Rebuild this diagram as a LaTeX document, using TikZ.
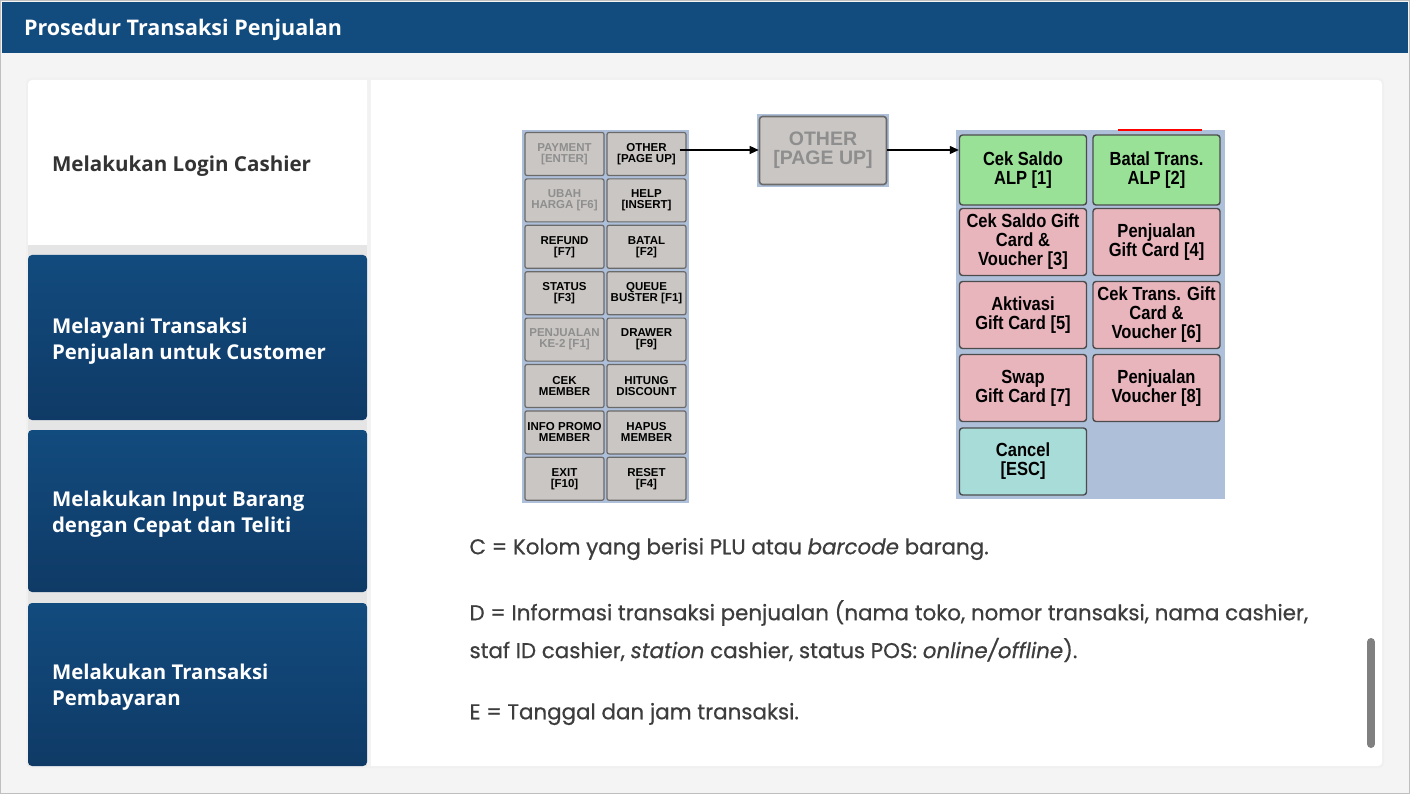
\documentclass[tikz,border=0pt]{standalone}
\usepackage{fontspec}
\setmainfont{Open Sans}
\newfontfamily\bodyfont{Poppins}[FakeBold=0.6]
\newfontfamily\keyfont{Liberation Sans}
\newfontfamily\menufont{Liberation Sans}[FakeStretch=0.87]
\usetikzlibrary{arrows.meta}
\definecolor{hdrblue}{HTML}{124B7E}
\definecolor{tabtop}{HTML}{124B7E}
\definecolor{tabbot}{HTML}{0F3A66}
\definecolor{pagebg}{HTML}{F4F4F4}
\definecolor{gridbg}{HTML}{AEBFD9}
\definecolor{keyfill}{HTML}{CAC6C3}
\definecolor{keyline}{HTML}{6A6A6A}
\definecolor{keyoff}{HTML}{8E8E8E}
\definecolor{greenbtn}{HTML}{99E196}
\definecolor{pinkbtn}{HTML}{E9B5BD}
\definecolor{cyanbtn}{HTML}{A8DCD9}
\definecolor{bodytext}{HTML}{3D3D3D}
\definecolor{tabtext}{HTML}{333333}
\tikzset{
  keybtn/.style={draw=keyline, line width=1.2pt, fill=keyfill, rounded corners=2pt,
    minimum width=79pt, minimum height=43pt, inner sep=0pt, align=center,
    font=\keyfont\bfseries\fontsize{11.5}{11}\selectfont, text=black},
  keydis/.style={keybtn, text=keyoff},
  menubtn/.style={draw=black!70, line width=1.4pt, rounded corners=3pt,
    minimum width=127pt, minimum height=67pt, inner sep=0pt, align=center,
    font=\menufont\bfseries\fontsize{19}{19}\selectfont, text=black},
  tabblue/.style={rounded corners=4pt, top color=tabtop, bottom color=tabbot},
  tablabel/.style={anchor=west, align=left, text=white,
    font=\bfseries\fontsize{20.4}{26.5}\selectfont},
  bodyline/.style={anchor=west, text=bodytext, font=\bodyfont\fontsize{21.4}{24}\selectfont},
  arr/.style={-{Triangle[length=9pt,width=8pt]}, line width=1.2pt, black}
}
\begin{document}
\begin{tikzpicture}[x=1pt,y=-1pt]
\useasboundingbox (0,0) rectangle (1410,794);
% page
\fill[pagebg] (0,0) rectangle (1410,794);
\draw[black!25, line width=1pt] (0.5,0.5) rectangle (1409.5,793.5);
% header
\fill[hdrblue] (2,2) rectangle (1408,53);
\node[anchor=west, text=white, font=\bfseries\fontsize{21.5}{24}\selectfont] (title) at (20.5,30) {Prosedur Transaksi Penjualan};
% card
\fill[black!6, rounded corners=5pt] (26,78) rectangle (1384,768);
\fill[white, rounded corners=4pt] (28,80) rectangle (1382,766);
% left column background
\fill[black!10] (28,245) rectangle (367,766);
\fill[black!5] (367,80) rectangle (371,766);
% tabs
\fill[white, rounded corners=4pt] (28,82) rectangle (367,245);
\node[anchor=west, text=tabtext, font=\bfseries\fontsize{20.6}{26}\selectfont] (tab1) at (48.5,166.5) {Melakukan Login Cashier};
\shade[tabblue] (28,255) rectangle (367,420);
\node[tablabel] (tab2) at (48.5,341) {Melayani Transaksi\\Penjualan untuk Customer};
\shade[tabblue] (28,430) rectangle (367,592);
\node[tablabel] (tab3) at (48.5,514) {Melakukan Input Barang\\dengan Cepat dan Teliti};
\shade[tabblue] (28,603) rectangle (367,766);
\node[tablabel] (tab4) at (48.5,687) {Melakukan Transaksi\\Pembayaran};
% key grid
\fill[gridbg] (522,130) rectangle (689,503);
\node[keydis] (k11) at (564.5,154) {PAYMENT\\{}[ENTER]};
\node[keybtn] (k12) at (646.5,154) {OTHER\\{}[PAGE UP]};
\node[keydis] (k21) at (564.5,200.4) {UBAH\\HARGA [F6]};
\node[keybtn] (k22) at (646.5,200.4) {HELP\\{}[INSERT]};
\node[keybtn] (k31) at (564.5,246.8) {REFUND\\{}[F7]};
\node[keybtn] (k32) at (646.5,246.8) {BATAL\\{}[F2]};
\node[keybtn] (k41) at (564.5,293.2) {STATUS\\{}[F3]};
\node[keybtn] (k42) at (646.5,293.2) {QUEUE\\BUSTER [F1]};
\node[keydis] (k51) at (564.5,339.6) {PENJUALAN\\KE-2 [F1]};
\node[keybtn] (k52) at (646.5,339.6) {DRAWER\\{}[F9]};
\node[keybtn] (k61) at (564.5,386) {CEK\\MEMBER};
\node[keybtn] (k62) at (646.5,386) {HITUNG\\DISCOUNT};
\node[keybtn] (k71) at (564.5,432.4) {INFO PROMO\\MEMBER};
\node[keybtn] (k72) at (646.5,432.4) {HAPUS\\MEMBER};
\node[keybtn] (k81) at (564.5,478.8) {EXIT\\{}[F10]};
\node[keybtn] (k82) at (646.5,478.8) {RESET\\{}[F4]};
% big OTHER
\fill[gridbg] (757,114) rectangle (889,187);
\node[draw=keyline, line width=1.6pt, fill=keyfill, rounded corners=3pt, minimum width=127pt,
  minimum height=68pt, inner sep=0pt, align=center, text=keyoff,
  font=\keyfont\bfseries\fontsize{19.5}{19}\selectfont] (bigother) at (823,150.5) {OTHER\\{}[PAGE UP]};
% menu panel
\fill[gridbg] (956,130) rectangle (1225,499);
\draw[red, line width=2pt] (1118,130) -- (1202,130);
\node[menubtn, fill=greenbtn, minimum height=70pt] (m1) at (1023,170) {Cek Saldo\\ALP [1]};
\node[menubtn, fill=greenbtn, minimum height=70pt] (m2) at (1156.5,170) {Batal Trans.\\ALP [2]};
\node[menubtn, fill=pinkbtn] (m3) at (1023,242) {Cek Saldo Gift\\Card \&\\Voucher [3]};
\node[menubtn, fill=pinkbtn] (m4) at (1156.5,242) {Penjualan\\Gift Card [4]};
\node[menubtn, fill=pinkbtn] (m5) at (1023,315) {Aktivasi\\Gift Card [5]};
\node[menubtn, fill=pinkbtn] (m6) at (1156.5,315) {Cek Trans. Gift\\Card \&\\Voucher [6]};
\node[menubtn, fill=pinkbtn] (m7) at (1023,388) {Swap\\Gift Card [7]};
\node[menubtn, fill=pinkbtn] (m8) at (1156.5,388) {Penjualan\\Voucher [8]};
\node[menubtn, fill=cyanbtn] (m9) at (1023,461.5) {Cancel\\{}[ESC]};
% arrows
\draw[arr] ([xshift=-7pt]k12.east |- 0,150) -- (bigother.west |- 0,150);
\draw[arr] (bigother.east |- 0,150) -- (m1.west |- 0,150);
% body text
\node[bodyline] (tc) at (466,549) {C = Kolom yang berisi PLU atau \textit{barcode} barang.};
\node[bodyline] (td1) at (466,613) {D = Informasi transaksi penjualan (nama toko, nomor transaksi, nama cashier,};
\node[bodyline] (td2) at (466,650) {staf ID cashier, \textit{station} cashier, status POS: \textit{online/offline}).};
\node[bodyline] (te) at (466,714) {E = Tanggal dan jam transaksi.};
% scrollbar
\draw[black!50, line width=8pt, line cap=round] (1371,642) -- (1371,744);
\end{tikzpicture}
\end{document}
